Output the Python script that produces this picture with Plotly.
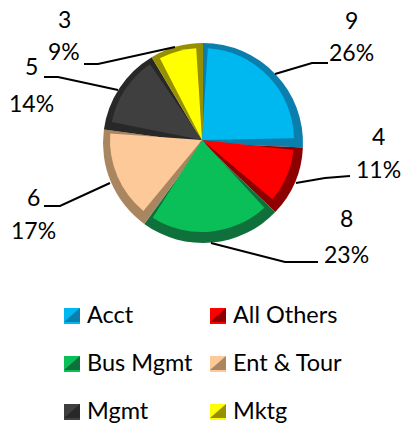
import plotly.graph_objects as go

WIDTH = 404
HEIGHT = 425

categories = ["Acct", "All Others", "Bus Mgmt", "Ent & Tour", "Mgmt", "Mktg"]
counts = [9, 4, 8, 6, 5, 3]
percent_labels = ["26%", "11%", "23%", "17%", "14%", "9%"]

face_colors = ["#00b8f0", "#ff0000", "#0abf58", "#fdc998", "#3f3f3f", "#ffff00"]
bevel_colors = ["#0a7fae", "#8e0000", "#10703c", "#a98560", "#282828", "#968f00"]

# gap between the top faces, lets the darker slice underneath show as a bevel
GAP = 0.7
LABEL_FONT = {"family": "Lato, Carlito, sans-serif", "size": 23, "color": "#000000"}
LEGEND_FONT = {"family": "Lato, Carlito, sans-serif", "size": 23.5, "color": "#000000"}

# label centres: (x, count y, percent y) in pixels
label_positions = [
    (351, 20, 52),
    (378, 136, 169),
    (346, 218, 254),
    (33, 197, 230),
    (31, 66, 103),
    (64, 19, 51),
]
leader_lines = [
    [(275, 74), (312, 63), (328, 63)],
    [(296, 183), (325, 178), (350, 176)],
    [(211, 243), (285, 262), (318, 262)],
    [(110, 183), (60, 206), (44, 206)],
    [(118, 90), (58, 77), (44, 77)],
    [(175, 47), (98, 64), (84, 64)],
]
legend_positions = [(64, 316), (210, 316), (64, 364), (210, 364), (64, 412), (210, 412)]


def px(x):
    return x / WIDTH


def py(y):
    return 1 - y / HEIGHT


def pie_domain(cx, cy, radius):
    return {"x": [px(cx - radius), px(cx + radius)], "y": [py(cy + radius), py(cy - radius)]}


def paper_path(points):
    return "M " + " L ".join(f"{px(x)} {py(y)}" for x, y in points)


fig = go.Figure()
fig.add_trace(
    go.Pie(
        labels=categories,
        values=counts,
        sort=False,
        direction="clockwise",
        rotation=0,
        marker={"colors": bevel_colors},
        textinfo="none",
        hoverinfo="label+value+percent",
        showlegend=False,
        domain=pie_domain(203, 143, 100),
    )
)

# top faces: each count shortened by the gap, spacer slices left transparent
face_values = []
face_colors_spaced = []
face_labels = []
for name, count, color in zip(categories, counts, face_colors):
    face_values += [count - GAP, GAP]
    face_colors_spaced += [color, "rgba(0,0,0,0)"]
    face_labels += [name, name + " bevel"]

fig.add_trace(
    go.Pie(
        labels=face_labels,
        values=face_values,
        sort=False,
        direction="clockwise",
        rotation=GAP / 2 / sum(counts) * 360,
        marker={"colors": face_colors_spaced, "line": {"width": 0}},
        textinfo="none",
        hoverinfo="skip",
        showlegend=False,
        domain=pie_domain(202, 140, 92),
    )
)

annotations = []
for count, percent, (x, y_count, y_percent) in zip(counts, percent_labels, label_positions):
    for text, y in ((str(count), y_count), (percent, y_percent)):
        annotations.append(
            {
                "text": text,
                "x": px(x),
                "y": py(y),
                "xref": "paper",
                "yref": "paper",
                "xanchor": "center",
                "yanchor": "middle",
                "showarrow": False,
                "font": LABEL_FONT,
            }
        )

shapes = []
for points in leader_lines:
    shapes.append(
        {
            "type": "path",
            "path": paper_path(points),
            "xref": "paper",
            "yref": "paper",
            "line": {"color": "#000000", "width": 2},
        }
    )

for name, face, bevel, (x, y) in zip(categories, face_colors, bevel_colors, legend_positions):
    # swatch: bevel square, face triangle over the top left, pale strip along the bottom
    square = [(x, y - 8), (x + 16, y - 8), (x + 16, y + 6), (x, y + 6), (x, y - 8)]
    corner = [(x, y - 8), (x + 16, y - 8), (x, y + 6), (x, y - 8)]
    strip = [(x, y + 6), (x + 16, y + 6), (x + 16, y + 8), (x, y + 8), (x, y + 6)]
    for points, color in ((square, bevel), (corner, face), (strip, face)):
        shapes.append(
            {
                "type": "path",
                "path": paper_path(points),
                "xref": "paper",
                "yref": "paper",
                "fillcolor": color,
                "line": {"width": 0},
            }
        )
    annotations.append(
        {
            "text": name,
            "x": px(x + 21),
            "y": py(y - 2),
            "xref": "paper",
            "yref": "paper",
            "xanchor": "left",
            "yanchor": "middle",
            "showarrow": False,
            "font": LEGEND_FONT,
        }
    )

fig.update_layout(
    width=WIDTH,
    height=HEIGHT,
    margin={"l": 0, "r": 0, "t": 0, "b": 0},
    paper_bgcolor="white",
    annotations=annotations,
    shapes=shapes,
)
fig.write_html(
    "out.html",
    config={"displayModeBar": False},
    post_script="document.body.style.margin = '0'; document.body.style.overflow = 'hidden';",
)
